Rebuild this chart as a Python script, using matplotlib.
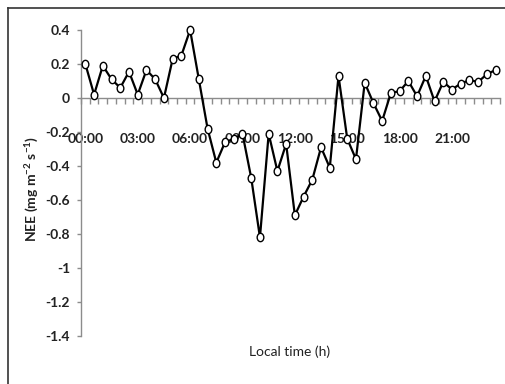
import numpy as np
import matplotlib.pyplot as plt
from matplotlib.lines import Line2D
from matplotlib.path import Path
from matplotlib.transforms import Affine2D

# Half-hourly NEE over one day
nee = [0.20, 0.02, 0.19, 0.11, 0.06, 0.155, 0.02, 0.165, 0.11, 0.00,
       0.23, 0.25, 0.40, 0.11, -0.18, -0.38, -0.26, -0.24, -0.21, -0.47,
       -0.82, -0.21, -0.43, -0.27, -0.69, -0.58, -0.48, -0.29, -0.41, 0.13,
       -0.24, -0.36, 0.09, -0.03, -0.135, 0.03, 0.04, 0.10, 0.01, 0.13,
       -0.02, 0.095, 0.05, 0.085, 0.105, 0.095, 0.14, 0.165]
hour_labels = ['00:00', '03:00', '06:00', '09:00', '12:00', '15:00', '18:00', '21:00']
y_ticks = [0.4, 0.2, 0, -0.2, -0.4, -0.6, -0.8, -1, -1.2, -1.4]
y_tick_labels = ['0.4', '0.2', '0', '-0.2', '-0.4', '-0.6', '-0.8', '-1', '-1.2', '-1.4']

plt.rcParams['font.family'] = ['Lato', 'DejaVu Sans']
plt.rcParams['mathtext.default'] = 'regular'

fig = plt.figure(figsize=(5.06, 3.84), dpi=100)
ax = fig.add_axes([81 / 506, 1 - 336 / 384, 419 / 506, 306 / 384])

# slightly tall oval markers, as in the source image
oval = Path.unit_circle().transformed(Affine2D().scale(0.8, 1.0))

x = np.arange(len(nee))
ax.plot(x, nee, color='black', lw=1.6, marker=oval, ms=6,
        mfc='white', mec='black', mew=1.0, zorder=3, clip_on=False)

ax.set_xlim(-0.5, len(nee) - 0.5)
ax.set_ylim(-1.4, 0.4)

gray = '#8c8c8c'
for s in ['top', 'right']:
    ax.spines[s].set_visible(False)
ax.spines['bottom'].set_position(('data', 0))
ax.spines['bottom'].set_color(gray)
ax.spines['left'].set_color(gray)
ax.spines['bottom'].set_linewidth(1.0)
ax.spines['left'].set_linewidth(1.0)

ax.set_xticks(x[::6])
ax.set_xticklabels(hour_labels, fontsize=10, fontweight='bold', color='#222222')
ax.set_xticks(np.arange(-0.5, len(nee), 1), minor=True)
ax.tick_params(axis='x', which='major', length=0, pad=25)
ax.tick_params(axis='x', which='minor', length=4, width=1, color=gray, direction='out')

ax.set_yticks(y_ticks)
ax.set_yticklabels(y_tick_labels, fontsize=10, fontweight='bold', color='#222222')
ax.tick_params(axis='y', length=3, width=1, color=gray, pad=5)

fig.text(32 / 506, 1 - 189 / 384, 'NEE (mg m$^{-2}$ s$^{-1}$)', rotation=90,
         ha='center', va='center', fontsize=10, fontweight='bold', color='#222222')
fig.text(290 / 506, 1 - 352 / 384, 'Local time (h)', ha='center', va='center',
         fontsize=10, color='#222222')

# outer chart border (left and top visible)
bx, by = 8 / 506, 1 - 8 / 384
fig.add_artist(Line2D([bx, bx], [0, by], transform=fig.transFigure, color='#333333', lw=1.2))
fig.add_artist(Line2D([bx, 1], [by, by], transform=fig.transFigure, color='#333333', lw=1.2))

fig.savefig('out.png', dpi=100)
